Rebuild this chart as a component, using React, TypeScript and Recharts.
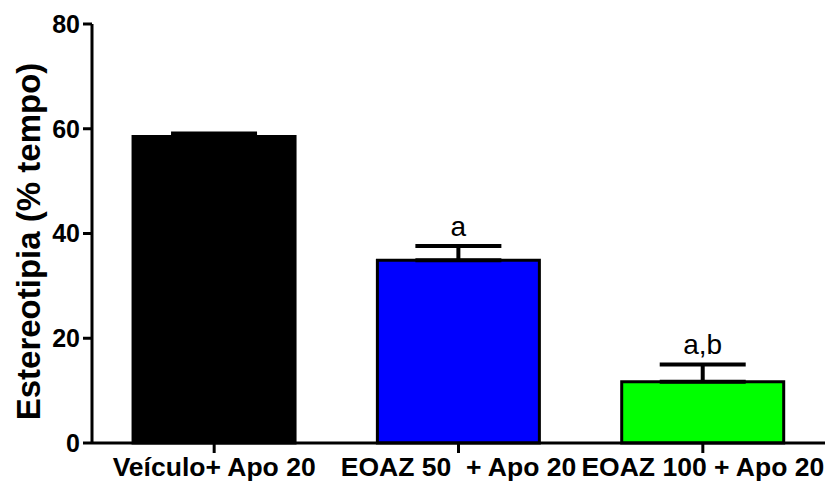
import React from 'react';
import { BarChart, Bar, XAxis, YAxis, Cell, ErrorBar, LabelList } from 'recharts';

const categories = ['Veículo+ Apo 20', 'EOAZ 50  + Apo 20', 'EOAZ 100 + Apo 20'];
const means = [58.5, 34.9, 11.7];
const sems = [0.6, 2.7, 3.3];
const letters = ['', 'a', 'a,b'];
const colors = ['#000000', '#0000FF', '#00FF00'];
const yTicks = [0, 20, 40, 60, 80];

const data = categories.map((c, i) => ({
  name: c,
  value: means[i],
  err: [0, sems[i]],
  sem: sems[i],
  letter: letters[i],
}));

const FONT = 'Arial, "Liberation Sans", Helvetica, sans-serif';

const XTick = (props: any) => {
  const { x, y, payload } = props;
  return (
    <text x={x} y={y} dy="0.71em" textAnchor="middle" fontFamily={FONT} fontWeight="bold" fontSize={26.5} fill="#000" xmlSpace="preserve" style={{ whiteSpace: 'pre' }}>
      {payload.value}
    </text>
  );
};

const LetterLabel = (props: any) => {
  const { x, y, width, height, index } = props;
  const d = data[index];
  if (!d || !d.letter) return null;
  const k = height / d.value;
  const top = y - d.sem * k;
  return (
    <text x={x + width / 2} y={top - 10} textAnchor="middle" fontFamily={FONT} fontSize={28} fill="#000">
      {d.letter}
    </text>
  );
};

const YLabel = (props: any) => {
  const vb = props.viewBox;
  const cy = vb.y + vb.height / 2 + 8;
  const cx = 40;
  return (
    <text x={cx} y={cy} transform={`rotate(-90 ${cx} ${cy})`} textAnchor="middle" fontFamily={FONT} fontWeight="bold" fontSize={33} fill="#000">
      Estereotipia (% tempo)
    </text>
  );
};

export default function App() {
  return (
    <div style={{ position: 'absolute', left: 0, top: 0, width: 828, height: 488, background: '#fff' }}>
      <BarChart width={828} height={488} data={data} margin={{ top: 24, right: 3, bottom: 0, left: 0 }} barCategoryGap="16.8%">
        <XAxis
          dataKey="name"
          height={45}
          tick={<XTick />}
          tickSize={10}
          tickMargin={4}
          axisLine={{ stroke: '#000', strokeWidth: 3 }}
          tickLine={{ stroke: '#000', strokeWidth: 3 }}
          interval={0}
        />
        <YAxis
          width={92}
          domain={[0, 80]}
          ticks={yTicks}
          tickSize={9}
          tickMargin={3}
          axisLine={{ stroke: '#000', strokeWidth: 3 }}
          tickLine={{ stroke: '#000', strokeWidth: 3 }}
          tick={{ fill: '#000', fontFamily: FONT, fontWeight: 'bold', fontSize: 25 }}
          label={<YLabel />}
        />
        <Bar dataKey="value" isAnimationActive={false} stroke="#000" strokeWidth={3}>
          {data.map((d, i) => (
            <Cell key={i} fill={colors[i]} />
          ))}
          <ErrorBar dataKey="err" width={43} stroke="#000" strokeWidth={4} direction="y" />
          <LabelList dataKey="value" content={<LetterLabel />} />
        </Bar>
      </BarChart>
    </div>
  );
}
